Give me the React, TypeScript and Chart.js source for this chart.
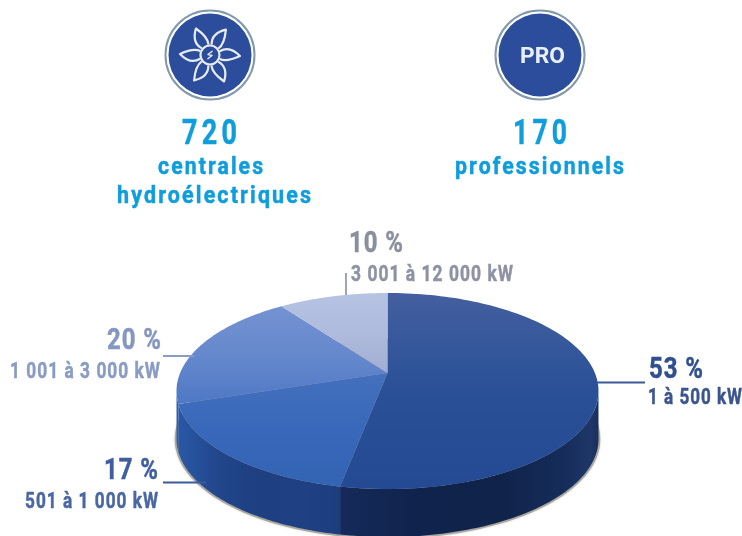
import React, { useEffect, useRef } from "react";
import { Chart, PieController, ArcElement } from "chart.js";

const categories = ["1 à 500 kW", "501 à 1 000 kW", "1 001 à 3 000 kW", "3 001 à 12 000 kW"];
const shares = [53, 17, 20, 10];
const sliceColors = ["#2a5097", "#3767b9", "#5f84ca", "#abb8da"];
const headlineNumbers = ["720", "170"];
const headlineLines = [["centrales", "hydroélectriques"], ["professionnels"]];

const FONT = 'Roboto, "DejaVu Sans Condensed", sans-serif';
const SCALE_X = 2.074;
const SCALE_Y = 0.947;
const PERSPECTIVE = -0.1837;
const DEPTH = 48;
const TWO_PI = Math.PI * 2;

const topStops: [number, string][][] = [
  [[0, "#445f9e"], [0.18, "#3a5a9d"], [0.5, "#2a5097"], [1, "#234a93"]],
  [[0, "#4470bd"], [0.5, "#3968ba"], [1, "#3363b3"]],
  [[0, "#7492d1"], [0.55, "#6487cc"], [1, "#4e78c5"]],
  [[0, "#b7c3e3"], [0.6, "#adb9db"], [1, "#a0aed2"]],
];
const wallStops: [number, string][][] = [
  [[0, "#152a5a"], [0.3, "#10234d"], [0.62, "#102349"], [0.86, "#152c5a"], [0.97, "#1e3768"], [1, "#1a2f5c"]],
  [[0, "#2a58a5"], [0.25, "#21468c"], [0.5, "#1e3f80"], [0.78, "#1f4082"], [1, "#1c3d7e"]],
  [[0, "#2f5fb0"], [1, "#2c5cab"]],
  [[0, "#152a5a"], [1, "#152a5a"]],
];

function project(el: any, angle: number, dy = 0, grow = 0) {
  const c = Math.cos(angle);
  const s = Math.sin(angle);
  const d = 1 + PERSPECTIVE * s;
  const r = el.outerRadius;
  return {
    x: el.x + (SCALE_X * r * c) / d + grow * c,
    y: el.y + (SCALE_Y * r * s) / d + dy + grow * s,
  };
}

function gradient(ctx: CanvasRenderingContext2D, x0: number, y0: number, x1: number, y1: number, stops: [number, string][]) {
  const g = ctx.createLinearGradient(x0, y0, x1, y1);
  stops.forEach(([p, col]) => g.addColorStop(p, col));
  return g;
}

class ProjectedArc extends ArcElement {
  static id = "projectedArc";
  draw(ctx: CanvasRenderingContext2D) {
    const el: any = this;
    const index = el.$context?.index ?? 0;
    const { startAngle, endAngle } = el.getProps(["startAngle", "endAngle"]);
    const lo = Math.asin(0.1837);
    const hi = Math.PI - lo;
    const from = Math.max(startAngle, lo);
    const to = Math.min(endAngle, hi);
    ctx.save();
    if (to > from) {
      const upper: { x: number; y: number }[] = [];
      for (let i = 0; i <= 80; i++) upper.push(project(el, from + ((to - from) * i) / 80));
      ctx.beginPath();
      upper.forEach((p, i) => (i ? ctx.lineTo(p.x, p.y) : ctx.moveTo(p.x, p.y)));
      [...upper].reverse().forEach((p) => ctx.lineTo(p.x, p.y + DEPTH));
      ctx.closePath();
      const xs = upper.map((p) => p.x);
      ctx.fillStyle = gradient(ctx, Math.min(...xs), 0, Math.max(...xs), 0, wallStops[index]);
      ctx.fill();
    }
    const pts: { x: number; y: number }[] = [];
    for (let i = 0; i <= 120; i++) pts.push(project(el, startAngle + ((endAngle - startAngle) * i) / 120));
    ctx.beginPath();
    ctx.moveTo(el.x, el.y);
    pts.forEach((p) => ctx.lineTo(p.x, p.y));
    ctx.closePath();
    const ys = [el.y, ...pts.map((p) => p.y)];
    ctx.fillStyle = gradient(ctx, 0, Math.min(...ys), 0, Math.max(...ys), topStops[index]);
    ctx.fill();
    ctx.restore();
  }
}

class PerspectivePie extends PieController {
  static id = "perspectivePie";
  static defaults = { ...(PieController as any).defaults, dataElementType: "projectedArc" };
}

Chart.register(ArcElement, PieController, ProjectedArc as any, PerspectivePie as any);

function fitText(ctx: any, text: string, x: number, baseline: number, width: number, font: string, color: string, tracking = 0.08, weight = 0.5) {
  const size = parseFloat(font.match(/([\d.]+)px/)![1]);
  ctx.save();
  ctx.font = font;
  ctx.textAlign = "left";
  ctx.textBaseline = "alphabetic";
  ctx.letterSpacing = `${size * tracking}px`;
  const natural = ctx.measureText(text).width - size * tracking;
  ctx.translate(x, baseline);
  ctx.scale(width / natural, 1);
  ctx.fillStyle = color;
  ctx.fillText(text, 0, 0);
  if (weight > 0) {
    ctx.strokeStyle = color;
    ctx.lineWidth = weight;
    ctx.lineJoin = "round";
    ctx.strokeText(text, 0, 0);
  }
  ctx.restore();
}

function badge(ctx: CanvasRenderingContext2D, cx: number, cy: number) {
  ctx.beginPath();
  ctx.arc(cx, cy, 44.5, 0, TWO_PI);
  ctx.strokeStyle = "#8199ab";
  ctx.lineWidth = 2;
  ctx.stroke();
  ctx.beginPath();
  ctx.arc(cx, cy, 41.5, 0, TWO_PI);
  ctx.fillStyle = "#2c4c9c";
  ctx.fill();
}

function turbine(ctx: CanvasRenderingContext2D, cx: number, cy: number) {
  ctx.strokeStyle = "#e6ecf6";
  ctx.lineWidth = 2.2;
  ctx.lineJoin = "round";
  ctx.beginPath();
  ctx.arc(cx, cy, 9.5, 0, TWO_PI);
  ctx.stroke();
  const pol = (a: number, r: number) => [cx + r * Math.cos(a), cy + r * Math.sin(a)] as const;
  for (let i = 0; i < 6; i++) {
    const a = (-118 + i * 60) * (Math.PI / 180);
    const [sx, sy] = pol(a - 0.4, 10.5);
    const [tx, ty] = pol(a, 30);
    const [ex, ey] = pol(a + 0.35, 10.5);
    const [c1x, c1y] = pol(a - 0.5, 22);
    const [c2x, c2y] = pol(a + 0.38, 18);
    ctx.beginPath();
    ctx.moveTo(sx, sy);
    ctx.quadraticCurveTo(c1x, c1y, tx, ty);
    ctx.quadraticCurveTo(c2x, c2y, ex, ey);
    ctx.stroke();
  }
  ctx.lineWidth = 1.4;
  ctx.beginPath();
  ctx.moveTo(cx + 2.5, cy - 4);
  ctx.lineTo(cx - 2, cy - 0.5);
  ctx.lineTo(cx + 2, cy + 0.5);
  ctx.lineTo(cx - 2.5, cy + 4);
  ctx.stroke();
}

const backdropPlugin = {
  id: "backdrop",
  beforeDatasetsDraw(chart: any) {
    const ctx = chart.ctx;
    const el = chart.getDatasetMeta(0).data[0];
    ctx.save();
    ctx.beginPath();
    for (let i = 0; i <= 160; i++) {
      const p = project(el, (i / 160) * TWO_PI, DEPTH, 1.8);
      i ? ctx.lineTo(p.x, p.y) : ctx.moveTo(p.x, p.y);
    }
    ctx.closePath();
    ctx.fillStyle = "#a8a69e";
    ctx.shadowColor = "rgba(120,120,110,0.5)";
    ctx.shadowBlur = 2;
    ctx.fill();
    ctx.restore();
  },
  afterDatasetsDraw(chart: any) {
    const ctx = chart.ctx;
    ctx.save();

    const leaders = [
      { x0: 597, y0: 382.5, x1: 645, y1: 382.5, color: "#3d5a96" },
      { x0: 163, y0: 482.5, x1: 206, y1: 482.5, color: "#3f5a9a" },
      { x0: 163, y0: 356, x1: 194, y1: 356, color: "#8a9cc4" },
      { x0: 346, y0: 273, x1: 346, y1: 295, color: "#a0a5b5" },
    ];
    const callouts = [
      { px: 649, py: 378, pw: 54, lx: 648, ly: 404, lw: 94, pc: "#2f4f8f", lc: "#3a5590" },
      { px: 104, py: 479, pw: 54, lx: 25, ly: 508, lw: 133, pc: "#3f5e9f", lc: "#4a67a5" },
      { px: 107, py: 349, pw: 54, lx: 10, ly: 378, lw: 150, pc: "#8397c1", lc: "#8a9cc4" },
      { px: 349, py: 252, pw: 54, lx: 351, ly: 281, lw: 162, pc: "#8a8f9f", lc: "#8e93a3" },
    ];
    leaders.forEach((l) => {
      ctx.beginPath();
      ctx.moveTo(l.x0, l.y0);
      ctx.lineTo(l.x1, l.y1);
      ctx.strokeStyle = l.color;
      ctx.lineWidth = 2;
      ctx.stroke();
    });
    callouts.forEach((c, i) => {
      fitText(ctx, `${shares[i]} %`, c.px, c.py, c.pw, `bold 29px ${FONT}`, c.pc, 0.04);
      fitText(ctx, categories[i], c.lx, c.ly, c.lw, `bold 22px ${FONT}`, c.lc, 0.06);
    });

    badge(ctx, 210, 55);
    turbine(ctx, 210, 55);
    badge(ctx, 540, 55);
    fitText(ctx, "PRO", 520, 63, 45, `bold 22px ${FONT}`, "#e8eff8", 0, 0);

    const blue = "#0f9ddc";
    fitText(ctx, headlineNumbers[0], 182, 144, 55, `bold 35px ${FONT}`, blue, 0.16);
    fitText(ctx, headlineNumbers[1], 513, 144, 54, `bold 35px ${FONT}`, blue, 0.16);
    fitText(ctx, headlineLines[0][0], 158, 174, 105, `bold 24px ${FONT}`, blue, 0.1);
    fitText(ctx, headlineLines[0][1], 117, 203, 194, `bold 24px ${FONT}`, blue, 0.1);
    fitText(ctx, headlineLines[1][0], 455, 174, 169, `bold 24px ${FONT}`, blue, 0.1);
    ctx.restore();
  },
};

export default function App() {
  const ref = useRef<HTMLCanvasElement | null>(null);
  useEffect(() => {
    if (!ref.current) return;
    const chart = new Chart(ref.current, {
      type: "perspectivePie" as any,
      data: {
        labels: categories,
        datasets: [{ data: shares, backgroundColor: sliceColors, borderWidth: 0 }],
      },
      options: {
        responsive: false,
        animation: false,
        events: [],
        layout: { padding: { left: 287.5, right: 254.5, top: 273, bottom: 63 } },
        plugins: { legend: { display: false }, tooltip: { enabled: false } },
      } as any,
      plugins: [backdropPlugin],
    });
    return () => chart.destroy();
  }, []);
  return (
    <canvas
      ref={ref}
      width={742}
      height={536}
      style={{ position: "absolute", left: 0, top: 0, width: 742, height: 536, display: "block" }}
    />
  );
}
